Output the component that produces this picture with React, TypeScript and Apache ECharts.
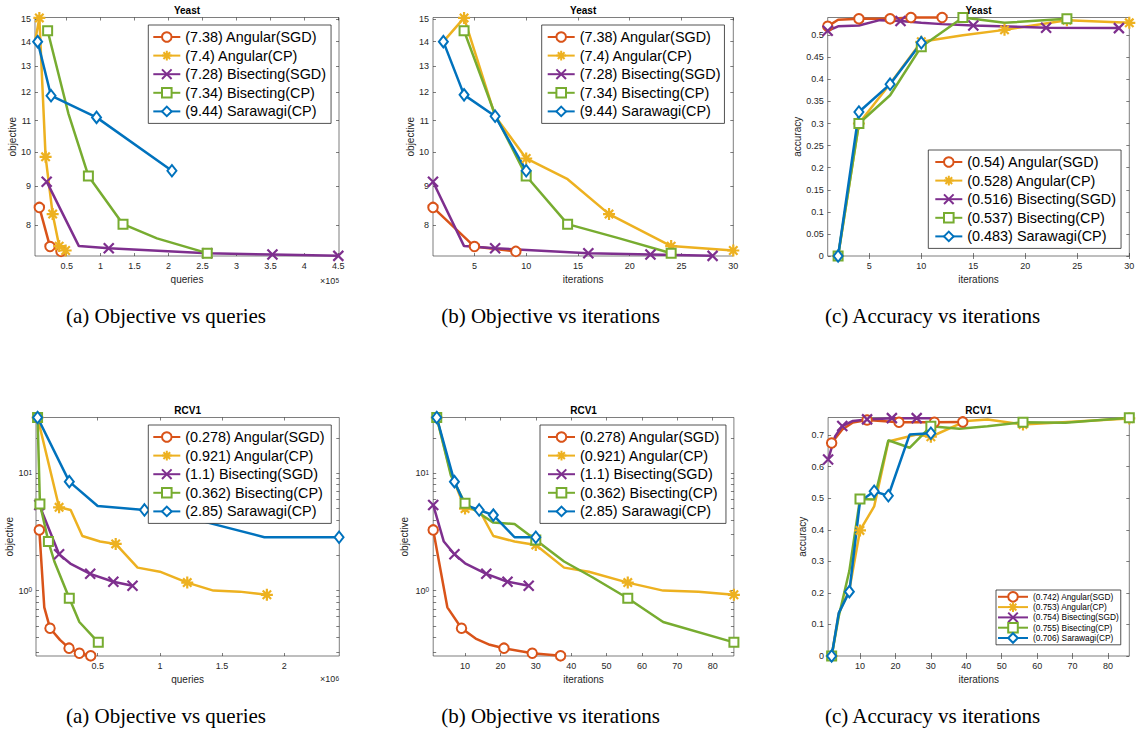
import React, { useEffect, useRef } from 'react';
import * as echarts from 'echarts';

type Pt = [number, number, number]; // [x, y, 1 = point carries a marker]

// ---------- Yeast: objective vs queries (x in units of 1e5) ----------
const yeastQAngularSGD: Pt[] = [[0.098, 8.44, 1], [0.255, 7.49, 1], [0.417, 7.38, 1]];
const yeastQAngularCP: Pt[] = [[0.034, 14.0, 0], [0.098, 15.05, 1], [0.19, 9.85, 1], [0.294, 8.27, 1], [0.39, 7.5, 1], [0.485, 7.4, 1]];
const yeastQBisectingSGD: Pt[] = [[0.206, 9.13, 1], [0.68, 7.5, 0], [1.12, 7.45, 1], [2.57, 7.34, 1], [3.53, 7.31, 1], [4.5, 7.28, 1]];
const yeastQBisectingCP: Pt[] = [[0.22, 14.47, 1], [0.525, 11.25, 0], [0.82, 9.29, 1], [1.33, 8.02, 1], [1.83, 7.68, 0], [2.57, 7.34, 1]];
const yeastQSarawagiCP: Pt[] = [[0.073, 14.0, 1], [0.27, 11.87, 1], [0.94, 11.11, 1], [2.05, 9.44, 1]];

// ---------- Yeast: objective vs iterations ----------
const yeastItAngularSGD: Pt[] = [[1, 8.44, 1], [5, 7.49, 1], [9, 7.38, 1]];
const yeastItAngularCP: Pt[] = [[2, 14.0, 0], [4, 15.05, 1], [7, 11.15, 0], [10, 9.8, 1], [14, 9.2, 0], [18, 8.27, 1], [24, 7.5, 1], [30, 7.4, 1]];
const yeastItBisectingSGD: Pt[] = [[1, 9.13, 1], [4, 7.5, 0], [7, 7.45, 1], [16, 7.34, 1], [22, 7.31, 1], [28, 7.28, 1]];
const yeastItBisectingCP: Pt[] = [[4, 14.47, 1], [7, 11.2, 0], [10, 9.29, 1], [14, 8.02, 1], [19, 7.68, 0], [24, 7.34, 1]];
const yeastItSarawagiCP: Pt[] = [[2, 14.0, 1], [4, 11.9, 1], [7, 11.15, 1], [10, 9.44, 1]];

// ---------- Yeast: accuracy vs iterations ----------
const yeastAccAngularSGD: Pt[] = [[1, 0.52, 1], [2, 0.535, 0], [4, 0.537, 1], [7, 0.537, 1], [9, 0.54, 1], [12, 0.54, 1]];
const yeastAccAngularCP: Pt[] = [[2, 0, 1], [4, 0.3, 1], [7, 0.39, 0], [10, 0.485, 1], [14, 0.5, 0], [18, 0.512, 1], [24, 0.534, 1], [30, 0.528, 1]];
const yeastAccBisectingSGD: Pt[] = [[1, 0.51, 1], [2, 0.52, 0], [4, 0.522, 0], [6, 0.534, 0], [8, 0.532, 1], [10, 0.528, 0], [12, 0.525, 0], [15, 0.522, 1], [22, 0.517, 1], [29, 0.516, 1]];
const yeastAccBisectingCP: Pt[] = [[2, 0, 1], [4, 0.3, 1], [7, 0.364, 0], [10, 0.474, 1], [14, 0.54, 1], [18, 0.528, 0], [24, 0.537, 1]];
const yeastAccSarawagiCP: Pt[] = [[2, 0, 1], [4, 0.326, 1], [7, 0.389, 1], [10, 0.483, 1]];

// ---------- RCV1: objective vs queries (x in units of 1e6) ----------
const rcvQAngularSGD: Pt[] = [[0.031, 3.29, 1], [0.071, 0.72, 0], [0.117, 0.478, 1], [0.197, 0.38, 0], [0.27, 0.323, 1], [0.353, 0.292, 1], [0.444, 0.278, 1]];
const rcvQAngularCP: Pt[] = [[0.017, 29.9, 1], [0.19, 5.13, 1], [0.283, 4.87, 0], [0.377, 2.92, 0], [0.519, 2.62, 0], [0.645, 2.5, 1], [0.821, 1.57, 0], [1.0, 1.45, 0], [1.22, 1.17, 1], [1.43, 1.0, 0], [1.64, 0.98, 0], [1.86, 0.921, 1]];
const rcvQBisectingSGD: Pt[] = [[0.031, 5.37, 1], [0.19, 2.04, 1], [0.28, 1.7, 0], [0.44, 1.39, 1], [0.626, 1.19, 1], [0.78, 1.1, 1]];
const rcvQBisectingCP: Pt[] = [[0.017, 29.9, 1], [0.036, 5.48, 1], [0.104, 2.62, 1], [0.152, 1.77, 0], [0.272, 0.86, 1], [0.353, 0.54, 0], [0.505, 0.362, 1]];
const rcvQSarawagiCP: Pt[] = [[0.017, 29.9, 1], [0.272, 8.49, 1], [0.5, 5.27, 0], [0.876, 4.87, 1], [1.15, 4.4, 1], [1.84, 2.85, 0], [2.44, 2.85, 1]];

// ---------- RCV1: objective vs iterations ----------
const rcvItAngularSGD: Pt[] = [[1, 3.29, 1], [5, 0.72, 0], [9, 0.478, 1], [13, 0.39, 0], [17, 0.345, 0], [21, 0.323, 1], [29, 0.292, 1], [37, 0.278, 1]];
const rcvItAngularCP: Pt[] = [[2, 29.9, 1], [6, 10, 0], [10, 5.0, 1], [14, 4.87, 0], [18, 2.92, 0], [24, 2.62, 0], [30, 2.45, 1], [38, 1.57, 0], [45, 1.45, 0], [56, 1.17, 1], [66, 1.0, 0], [76, 0.98, 0], [86, 0.921, 1]];
const rcvItBisectingSGD: Pt[] = [[1, 5.37, 1], [4, 2.62, 0], [7, 2.04, 1], [10, 1.71, 0], [16, 1.39, 1], [22, 1.19, 1], [28, 1.1, 1]];
const rcvItBisectingCP: Pt[] = [[2, 29.9, 1], [6, 9.6, 0], [10, 5.55, 1], [14, 4.56, 0], [18, 3.8, 0], [24, 3.7, 0], [30, 2.7, 1], [38, 1.77, 0], [46, 1.3, 0], [56, 0.86, 1], [66, 0.54, 0], [86, 0.362, 1]];
const rcvItSarawagiCP: Pt[] = [[2, 29.9, 1], [7, 8.49, 1], [10, 5.37, 0], [14, 4.87, 1], [18, 4.4, 1], [24, 2.85, 0], [30, 2.85, 1]];

// ---------- RCV1: accuracy vs iterations ----------
const rcvAccAngularSGD: Pt[] = [[2, 0.675, 1], [5, 0.718, 0], [8, 0.74, 0], [12, 0.748, 1], [21, 0.741, 1], [31, 0.741, 1], [39, 0.742, 1]];
const rcvAccAngularCP: Pt[] = [[2, 0, 1], [4, 0.135, 0], [7, 0.21, 0], [10, 0.398, 1], [14, 0.474, 0], [18, 0.68, 0], [26, 0.702, 0], [30, 0.695, 1], [40, 0.745, 0], [46, 0.75, 0], [56, 0.734, 1], [86, 0.753, 1]];
const rcvAccBisectingSGD: Pt[] = [[1, 0.623, 1], [3, 0.697, 0], [5, 0.729, 1], [8, 0.745, 0], [12, 0.75, 1], [19, 0.754, 1], [26, 0.754, 1], [30, 0.754, 0]];
const rcvAccBisectingCP: Pt[] = [[2, 0, 1], [4, 0.125, 0], [7, 0.27, 0], [10, 0.498, 1], [14, 0.496, 0], [18, 0.684, 0], [24, 0.66, 0], [30, 0.728, 1], [38, 0.72, 0], [46, 0.728, 0], [56, 0.741, 1], [68, 0.739, 0], [86, 0.755, 1]];
const rcvAccSarawagiCP: Pt[] = [[2, 0, 1], [4, 0.136, 0], [7, 0.204, 1], [10, 0.49, 0], [14, 0.522, 1], [18, 0.508, 1], [24, 0.702, 0], [30, 0.706, 1]];

// ---------- legend names ----------
const yeastObjNames = ['(7.38) Angular(SGD)', '(7.4) Angular(CP)', '(7.28) Bisecting(SGD)', '(7.34) Bisecting(CP)', '(9.44) Sarawagi(CP)'];
const yeastAccNames = ['(0.54) Angular(SGD)', '(0.528) Angular(CP)', '(0.516) Bisecting(SGD)', '(0.537) Bisecting(CP)', '(0.483) Sarawagi(CP)'];
const rcvObjNames = ['(0.278) Angular(SGD)', '(0.921) Angular(CP)', '(1.1) Bisecting(SGD)', '(0.362) Bisecting(CP)', '(2.85) Sarawagi(CP)'];
const rcvAccNames = ['(0.742) Angular(SGD)', '(0.753) Angular(CP)', '(0.754) Bisecting(SGD)', '(0.755) Bisecting(CP)', '(0.706) Sarawagi(CP)'];

// ---------- ticks ----------
const xTicksYeastQ = [0.5, 1, 1.5, 2, 2.5, 3, 3.5, 4, 4.5];
const xTicksYeastIt = [5, 10, 15, 20, 25, 30];
const xTicksRcvQ = [0.5, 1, 1.5, 2];
const xTicksRcvIt = [10, 20, 30, 40, 50, 60, 70, 80];
const yTicksYeastObj = [8, 9, 10, 11, 12, 13, 14, 15];
const yTicksYeastAcc = [0, 0.05, 0.1, 0.15, 0.2, 0.25, 0.3, 0.35, 0.4, 0.45, 0.5];
const yLabelsRcvObj = [1, 10];
const yTicksRcvObj = [0.3, 0.4, 0.5, 0.6, 0.7, 0.8, 0.9, 1, 2, 3, 4, 5, 6, 7, 8, 9, 10, 20];
const yTicksRcvAcc = [0, 0.1, 0.2, 0.3, 0.4, 0.5, 0.6, 0.7];

const captionsTop = ['(a) Objective vs queries', '(b) Objective vs iterations', '(c) Accuracy vs iterations'];

// ---------- styles ----------
const COLORS = ['#D95319', '#EDB120', '#7E2F8E', '#77AC30', '#0072BD'];
const ASTERISK = 'path://M5,0L5,10M0,5L10,5M1.5,1.5L8.5,8.5M8.5,1.5L1.5,8.5';
const CROSS = 'path://M0,0L10,10M10,0L0,10';
const SYMBOLS = ['emptyCircle', ASTERISK, CROSS, 'emptyRect', 'emptyDiamond'];
const SYMBOL_SIZES: any[] = [9.5, 12, 10, 9, [9, 11.5]];
const FONT = '"Liberation Sans", Arial, Helvetica, sans-serif';
const AX = '#262626';

const num = (v: number) => String(+Number(v).toFixed(3));
const pow10 = (v: number) =>
  Math.abs(v - 1) < 1e-9 ? '{b|10}{s|0}' : Math.abs(v - 10) < 1e-9 ? '{b|10}{s|1}' : '';

const bigLegend = { fontSize: 14.4, lineHeight: 16, itemHeight: 12, itemGap: 2.6, itemWidth: 27 };

const panels: any[] = [
  {
    left: 35, top: 17.5, width: 304, height: 238.5, xMin: 0.034, xMax: 4.51, xTicks: xTicksYeastQ, xName: 'queries',
    yLog: true, yMin: 7.277, yMax: 15.07, yTicks: yTicksYeastObj, yLabels: yTicksYeastObj, yFmt: num, yName: 'objective', yNameGap: 11,
    title: 'Yeast', names: yeastObjNames,
    series: [yeastQAngularSGD, yeastQAngularCP, yeastQBisectingSGD, yeastQBisectingCP, yeastQSarawagiCP],
    legend: { ...bigLegend, left: 148.3, top: 25, padding: [4, 5, 4, 4] },
  },
  {
    left: 433, top: 17.5, width: 300.3, height: 238.5, xMin: 1, xMax: 30, xTicks: xTicksYeastIt, xName: 'iterations',
    yLog: true, yMin: 7.277, yMax: 15.07, yTicks: yTicksYeastObj, yLabels: yTicksYeastObj, yFmt: num, yName: 'objective', yNameGap: 16,
    title: 'Yeast', names: yeastObjNames,
    series: [yeastItAngularSGD, yeastItAngularCP, yeastItBisectingSGD, yeastItBisectingCP, yeastItSarawagiCP],
    legend: { ...bigLegend, left: 541.7, top: 25, padding: [4, 4, 4, 5] },
  },
  {
    left: 827.7, top: 17.5, width: 301.6, height: 238.5, xMin: 1, xMax: 30, xTicks: xTicksYeastIt, xName: 'iterations',
    yLog: false, yMin: 0, yMax: 0.54, yTicks: yTicksYeastAcc, yLabels: yTicksYeastAcc, yFmt: num, yName: 'accuracy', yNameGap: 24,
    title: 'Yeast', names: yeastAccNames,
    series: [yeastAccAngularSGD, yeastAccAngularCP, yeastAccBisectingSGD, yeastAccBisectingCP, yeastAccSarawagiCP],
    legend: { ...bigLegend, left: 928.3, top: 150, padding: [4, 5, 4, 6] },
  },
  {
    left: 36, top: 417.5, width: 303.3, height: 238.5, xMin: 0.0044, xMax: 2.442, xTicks: xTicksRcvQ, xName: 'queries',
    yLog: true, yMin: 0.277, yMax: 29.9, yTicks: yTicksRcvObj, yLabels: yLabelsRcvObj, yFmt: pow10, yName: 'objective', yNameGap: 22,
    title: 'RCV1', names: rcvObjNames,
    series: [rcvQAngularSGD, rcvQAngularCP, rcvQBisectingSGD, rcvQBisectingCP, rcvQSarawagiCP],
    legend: { ...bigLegend, left: 148.3, top: 425, padding: [4, 6, 4, 4] },
  },
  {
    left: 433.2, top: 417.5, width: 300.7, height: 238.5, xMin: 1, xMax: 86, xTicks: xTicksRcvIt, xName: 'iterations',
    yLog: true, yMin: 0.277, yMax: 29.9, yTicks: yTicksRcvObj, yLabels: yLabelsRcvObj, yFmt: pow10, yName: 'objective', yNameGap: 24,
    title: 'RCV1', names: rcvObjNames,
    series: [rcvItAngularSGD, rcvItAngularCP, rcvItBisectingSGD, rcvItBisectingCP, rcvItSarawagiCP],
    legend: { ...bigLegend, left: 540, top: 425, padding: [4, 6, 4, 7] },
  },
  {
    left: 828.1, top: 417.5, width: 301.2, height: 238.5, xMin: 1, xMax: 86, xTicks: xTicksRcvIt, xName: 'iterations',
    yLog: false, yMin: 0, yMax: 0.756, yTicks: yTicksRcvAcc, yLabels: yTicksRcvAcc, yFmt: num, yName: 'accuracy', yNameGap: 11,
    title: 'RCV1', names: rcvAccNames,
    series: [rcvAccAngularSGD, rcvAccAngularCP, rcvAccBisectingSGD, rcvAccBisectingCP, rcvAccSarawagiCP],
    legend: { fontSize: 8.3, lineHeight: 10, itemHeight: 12, itemGap: -1.3, itemWidth: 30, left: 996, top: 590, padding: [1, 2, 1, 1] },
  },
];

const captionX = [166, 550.5, 932.5];

function buildOption() {
  const grid: any[] = [];
  const xAxis: any[] = [];
  const yAxis: any[] = [];
  const series: any[] = [];
  const legend: any[] = [];
  const graphic: any[] = [];
  const tickStyle = { color: AX, width: 0.6 };
  const supRich = {
    b: { fontSize: 9, lineHeight: 9, color: AX, verticalAlign: 'bottom', fontFamily: FONT },
    s: { fontSize: 6.5, lineHeight: 6.5, color: AX, verticalAlign: 'top', padding: [0, 0, 5, 0], fontFamily: FONT },
  };

  panels.forEach((p, i) => {
    grid.push({
      left: p.left, top: p.top, width: p.width, height: p.height, show: true,
      borderColor: AX, borderWidth: 0.6, backgroundColor: 'transparent', containLabel: false, outerBoundsMode: 'none',
    });
    xAxis.push({
      type: 'value', gridIndex: i, position: 'bottom', min: p.xMin, max: p.xMax,
      name: p.xName, nameLocation: 'middle', nameGap: 18,
      nameTextStyle: { fontSize: 10, color: AX, fontFamily: FONT },
      axisLine: { show: false }, splitLine: { show: false },
      axisTick: { show: true, inside: true, length: 3, customValues: p.xTicks, lineStyle: tickStyle },
      axisLabel: { show: true, customValues: p.xTicks, formatter: (v: number) => num(v), fontSize: 9, color: AX, margin: 5, fontFamily: FONT },
    });
    xAxis.push({
      type: 'value', gridIndex: i, position: 'top', min: p.xMin, max: p.xMax,
      axisLine: { show: false }, splitLine: { show: false },
      axisTick: { show: true, inside: true, length: 3, customValues: p.xTicks, lineStyle: tickStyle },
      axisLabel: { show: false },
    });
    const yBase: any = p.yLog ? { type: 'log', logBase: 10 } : { type: 'value' };
    yAxis.push({
      ...yBase, gridIndex: i, position: 'left', min: p.yMin, max: p.yMax,
      name: p.yName, nameLocation: 'middle', nameGap: p.yNameGap,
      nameTextStyle: { fontSize: 10, color: AX, fontFamily: FONT },
      axisLine: { show: false }, splitLine: { show: false }, minorTick: { show: false },
      axisTick: { show: true, inside: true, length: 3, customValues: p.yTicks, lineStyle: tickStyle },
      axisLabel: {
        show: true, customValues: p.yLabels, formatter: (v: number) => p.yFmt(v),
        fontSize: 9, color: AX, margin: 4, fontFamily: FONT, rich: supRich,
      },
    });
    yAxis.push({
      ...yBase, gridIndex: i, position: 'right', min: p.yMin, max: p.yMax,
      axisLine: { show: false }, splitLine: { show: false }, minorTick: { show: false },
      axisTick: { show: true, inside: true, length: 3, customValues: p.yTicks, lineStyle: tickStyle },
      axisLabel: { show: false },
    });

    p.series.forEach((pts: Pt[], k: number) => {
      series.push({
        type: 'line', name: p.names[k], xAxisIndex: 2 * i, yAxisIndex: 2 * i,
        data: pts.map(([x, y, m]) => (m ? { value: [x, y] } : { value: [x, y], symbol: 'none' })),
        symbol: SYMBOLS[k], symbolSize: SYMBOL_SIZES[k], showSymbol: true, showAllSymbol: true,
        lineStyle: { color: COLORS[k], width: 2.5 },
        itemStyle: { color: COLORS[k], borderColor: COLORS[k], borderWidth: 2.2 },
        clip: false, silent: true, emphasis: { disabled: true },
      });
    });

    const L = p.legend;
    legend.push({
      data: p.names, orient: 'vertical', left: L.left, top: L.top, padding: L.padding,
      itemWidth: L.itemWidth, itemHeight: L.itemHeight, itemGap: L.itemGap,
      textStyle: { fontSize: L.fontSize, lineHeight: L.lineHeight, color: '#000', fontFamily: FONT },
      borderColor: AX, borderWidth: 0.8, borderRadius: 0, backgroundColor: '#fff',
      selectedMode: false, z: 10,
    });

    graphic.push({
      type: 'text', x: p.left + p.width / 2, y: p.top - 7.5, z: 20,
      style: {
        text: p.title, font: `bold 10px ${FONT}`, fill: '#000',
        textAlign: 'center', textVerticalAlign: 'middle', align: 'center', verticalAlign: 'middle',
      },
    });
  });

  // ×10^5 / ×10^6 exponent labels
  [['5', 281], ['6', 679]].forEach(([e, y]) => {
    graphic.push({
      type: 'text', x: 339, y: y as number, z: 20,
      style: {
        text: `{b|×10}{s|${e}}`, rich: supRich, fill: AX,
        textAlign: 'right', textVerticalAlign: 'middle', align: 'right', verticalAlign: 'middle',
      },
    });
  });

  // sub-figure captions
  [316, 716].forEach((y) => {
    captionsTop.forEach((c, j) => {
      graphic.push({
        type: 'text', x: captionX[j], y, z: 20,
        style: {
          text: c, font: '21px "Liberation Serif", "Times New Roman", serif', fill: '#000',
          textAlign: 'center', textVerticalAlign: 'middle', align: 'center', verticalAlign: 'middle',
        },
      });
    });
  });

  return {
    animation: false,
    backgroundColor: '#fff',
    textStyle: { fontFamily: FONT },
    grid, xAxis, yAxis, series, legend, graphic,
  };
}

export default function App() {
  const ref = useRef<HTMLDivElement>(null);
  useEffect(() => {
    if (!ref.current) return;
    const chart = echarts.init(ref.current, undefined, { renderer: 'svg' });
    chart.setOption(buildOption() as any);
    return () => chart.dispose();
  }, []);
  return <div ref={ref} style={{ position: 'absolute', left: 0, top: 0, width: 1138, height: 734 }} />;
}
